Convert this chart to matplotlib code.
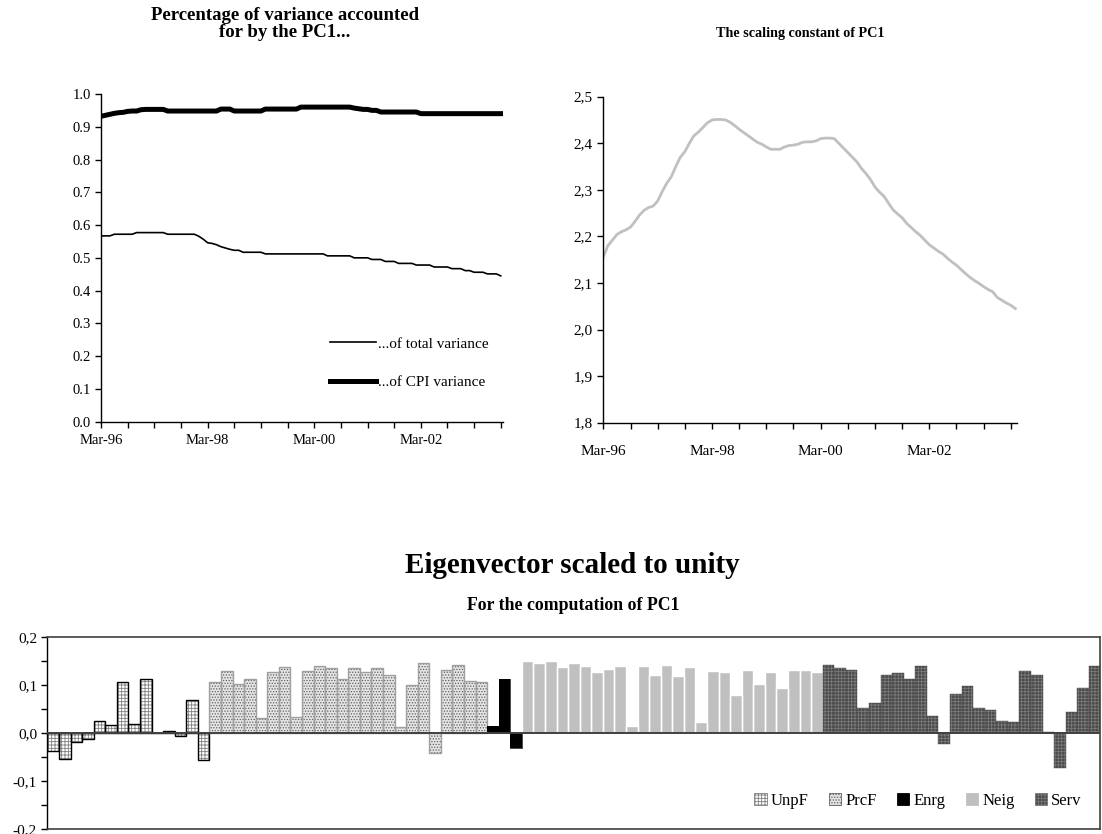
import matplotlib
matplotlib.use("Agg")
import matplotlib.pyplot as plt
import numpy as np
from matplotlib.patches import Patch
from matplotlib.ticker import FuncFormatter, MultipleLocator

plt.rcParams['font.family'] = ['Liberation Serif', 'DejaVu Serif']
plt.rcParams['hatch.linewidth'] = 0.6

# ---------------- data ----------------
date_labels = ['Mar-96', 'Mar-98', 'Mar-00', 'Mar-02']

total_share = [0.567, 0.567, 0.567, 0.572, 0.572, 0.572, 0.572, 0.572, 0.577, 0.577,
               0.577, 0.577, 0.577, 0.577, 0.577, 0.572, 0.572, 0.572, 0.572, 0.572,
               0.572, 0.572, 0.566, 0.557, 0.546, 0.544, 0.540, 0.534, 0.530, 0.526,
               0.523, 0.523, 0.517, 0.517, 0.517, 0.517, 0.517, 0.512, 0.512, 0.512,
               0.512, 0.512, 0.512, 0.512, 0.512, 0.512, 0.512, 0.512, 0.512, 0.512,
               0.512, 0.506, 0.506, 0.506, 0.506, 0.506, 0.506, 0.500, 0.500, 0.500,
               0.500, 0.495, 0.495, 0.495, 0.489, 0.489, 0.489, 0.483, 0.483, 0.483,
               0.483, 0.478, 0.478, 0.478, 0.478, 0.472, 0.472, 0.472, 0.472, 0.467,
               0.467, 0.467, 0.461, 0.461, 0.456, 0.456, 0.456, 0.451, 0.451, 0.451,
               0.445]

cpi_share = [0.932, 0.935, 0.938, 0.941, 0.943, 0.944, 0.947, 0.948, 0.948, 0.952,
             0.953, 0.953, 0.953, 0.953, 0.953, 0.948, 0.948, 0.948, 0.948, 0.948,
             0.948, 0.948, 0.948, 0.948, 0.948, 0.948, 0.948, 0.954, 0.954, 0.954,
             0.948, 0.948, 0.948, 0.948, 0.948, 0.948, 0.948, 0.954, 0.954, 0.954,
             0.954, 0.954, 0.954, 0.954, 0.954, 0.960, 0.960, 0.960, 0.960, 0.960,
             0.960, 0.960, 0.960, 0.960, 0.960, 0.960, 0.960, 0.957, 0.955, 0.953,
             0.953, 0.950, 0.950, 0.945, 0.945, 0.945, 0.945, 0.945, 0.945, 0.945,
             0.945, 0.945, 0.940, 0.940, 0.940, 0.940, 0.940, 0.940, 0.940, 0.940,
             0.940, 0.940, 0.940, 0.940, 0.940, 0.940, 0.940, 0.940, 0.940, 0.940,
             0.940]

scaling_const = [2.156, 2.180, 2.192, 2.204, 2.210, 2.214, 2.220, 2.232, 2.246, 2.256,
                 2.262, 2.265, 2.276, 2.296, 2.314, 2.328, 2.350, 2.370, 2.382, 2.400,
                 2.416, 2.424, 2.434, 2.444, 2.450, 2.451, 2.451, 2.450, 2.445, 2.438,
                 2.430, 2.423, 2.416, 2.409, 2.402, 2.398, 2.392, 2.387, 2.387, 2.387,
                 2.392, 2.395, 2.396, 2.398, 2.402, 2.403, 2.403, 2.405, 2.410, 2.411,
                 2.411, 2.410, 2.400, 2.390, 2.380, 2.370, 2.360, 2.346, 2.335, 2.322,
                 2.306, 2.295, 2.286, 2.271, 2.257, 2.248, 2.240, 2.228, 2.219, 2.210,
                 2.202, 2.192, 2.182, 2.175, 2.168, 2.162, 2.153, 2.145, 2.138, 2.129,
                 2.120, 2.112, 2.105, 2.099, 2.092, 2.086, 2.081, 2.069, 2.063, 2.057,
                 2.052, 2.045]

unpf = [-0.037, -0.054, -0.019, -0.012, 0.025, 0.017, 0.107, 0.020, 0.113, 0.001,
        0.004, -0.006, 0.070, -0.056]
prcf = [0.106, 0.129, 0.103, 0.113, 0.032, 0.128, 0.138, 0.035, 0.130, 0.141,
        0.137, 0.114, 0.136, 0.127, 0.136, 0.121, 0.014, 0.100, 0.147, -0.040,
        0.132, 0.143, 0.109, 0.106]
enrg = [0.015, 0.114, -0.030]
neig = [0.150, 0.146, 0.150, 0.138, 0.146, 0.140, 0.127, 0.135, 0.140, 0.015,
        0.140, 0.121, 0.143, 0.119, 0.138, 0.023, 0.130, 0.127, 0.080, 0.131,
        0.103, 0.127, 0.094, 0.131, 0.131, 0.127]
serv = [0.143, 0.137, 0.133, 0.052, 0.063, 0.121, 0.125, 0.114, 0.141, 0.036,
        -0.023, 0.081, 0.098, 0.052, 0.048, 0.026, 0.023, 0.129, 0.121, 0.003,
        -0.073, 0.044, 0.094, 0.141]
group_names = ['UnpF', 'PrcF', 'Enrg', 'Neig', 'Serv']

# ---------------- figure ----------------
fig = plt.figure(figsize=(11.02, 8.34), dpi=100)

def month_axis(ax, n, xmax, pad):
    ticks = list(range(0, n, 6))
    labels = []
    for t in ticks:
        if t % 24 == 0 and t // 24 < len(date_labels):
            labels.append(date_labels[t // 24])
        else:
            labels.append('')
    ax.set_xticks(ticks)
    ax.set_xticklabels(labels)
    ax.set_xlim(0, xmax)
    ax.tick_params(axis='x', direction='out', length=4, width=1, pad=pad)
    ax.tick_params(axis='y', direction='out', length=4, width=1)
    for s in ['top', 'right']:
        ax.spines[s].set_visible(False)
    for s in ['left', 'bottom']:
        ax.spines[s].set_linewidth(1)

# Left chart
ax1 = fig.add_axes([0.0917, 0.4944, 0.3647, 0.3929])
m1 = np.arange(len(total_share))
ax1.plot(m1, total_share, color='black', lw=1.2, label='...of total variance')
ax1.plot(m1, cpi_share, color='black', lw=3.6, label='...of CPI variance')
ax1.set_ylim(0, 1.0)
ax1.yaxis.set_major_locator(MultipleLocator(0.1))
ax1.yaxis.set_major_formatter(FuncFormatter(lambda v, p: f'{v:.1f}'))
month_axis(ax1, 91, 90.5, 5)
ax1.tick_params(labelsize=10.5)
ax1.legend(loc='center left', bbox_to_anchor=(0.570, 0.179), frameon=False,
           fontsize=11, handlelength=3, handletextpad=0.15, labelspacing=1.6,
           borderpad=0, borderaxespad=0)
fig.text(0.2586, 0.9718, 'Percentage of variance accounted\nfor by the PC1...',
         ha='center', va='center', fontsize=13.5, fontweight='bold', linespacing=1.0)

# Right chart
ax2 = fig.add_axes([0.5475, 0.4932, 0.3751, 0.3909])
m2 = np.arange(len(scaling_const))
ax2.plot(m2, scaling_const, color='#c0c0c0', lw=2)
ax2.set_ylim(1.8, 2.5)
ax2.yaxis.set_major_locator(MultipleLocator(0.1))
ax2.yaxis.set_major_formatter(FuncFormatter(lambda v, p: f'{v:.1f}'.replace('.', ',')))
month_axis(ax2, 92, 91.3, 12)
ax2.tick_params(labelsize=11)
fig.text(0.726, 0.960, 'The scaling constant of PC1', ha='center', va='center',
         fontsize=10.2, fontweight='bold')

# Bottom bar chart
ax3 = fig.add_axes([0.0431, 0.0056, 0.9555, 0.2302])
styles = {
    'UnpF': dict(face='white', hatch='+++++', hcol='#808080', edge='black', lw=1.0),
    'PrcF': dict(face='#e4e4e4', hatch='......', hcol='#606060', edge='#a0a0a0', lw=1.0),
    'Enrg': dict(face='black', hatch=None, hcol='black', edge='black', lw=0.5),
    'Neig': dict(face='#c0c0c0', hatch=None, hcol='#c0c0c0', edge='white', lw=1.0),
    'Serv': dict(face='#4a4a4a', hatch='+++++', hcol='#7a7a7a', edge='#4a4a4a', lw=0.3),
}
groups = [unpf, prcf, enrg, neig, serv]
start = 0
handles = []
for name, vals in zip(group_names, groups):
    st = styles[name]
    x = np.arange(start, start + len(vals))
    ax3.bar(x, vals, width=1.0, color=st['face'], edgecolor=st['hcol'],
            hatch=st['hatch'], linewidth=0)
    ax3.bar(x, vals, width=1.0, fill=False, edgecolor=st['edge'], linewidth=st['lw'])
    handles.append(Patch(facecolor=st['face'], edgecolor=st['hcol'] if name != 'Neig' else '#c0c0c0',
                         hatch=st['hatch'], linewidth=0.6, label=name))
    start += len(vals)
ax3.set_xlim(-0.5, start - 0.5)
ax3.set_ylim(-0.2, 0.2)
ax3.axhline(0, color='#404040', lw=1.4, zorder=5)
ax3.set_xticks([])
ax3.yaxis.set_major_locator(MultipleLocator(0.1))
ax3.yaxis.set_minor_locator(MultipleLocator(0.05))
ax3.yaxis.set_major_formatter(FuncFormatter(lambda v, p: f'{v:.1f}'.replace('.', ',')))
ax3.tick_params(axis='y', which='both', direction='out', length=4, width=1, labelsize=11)
for s in ax3.spines.values():
    s.set_color('#404040')
    s.set_linewidth(1.2)
ax3.spines['left'].set_color('black')
ax3.spines['left'].set_linewidth(1)

fig.legend(handles=handles, loc='center left', bbox_to_anchor=(0.677, 0.040), ncol=5,
           frameon=False, fontsize=12, handlelength=0.75, handleheight=0.75,
           handletextpad=0.25, columnspacing=1.2, borderpad=0)

fig.text(0.519, 0.3225, 'Eigenvector scaled to unity', ha='center', va='center',
         fontsize=21, fontweight='bold')
fig.text(0.52, 0.2734, 'For the computation of PC1', ha='center', va='center',
         fontsize=12.8, fontweight='bold')

fig.savefig('out.png', dpi=100)
